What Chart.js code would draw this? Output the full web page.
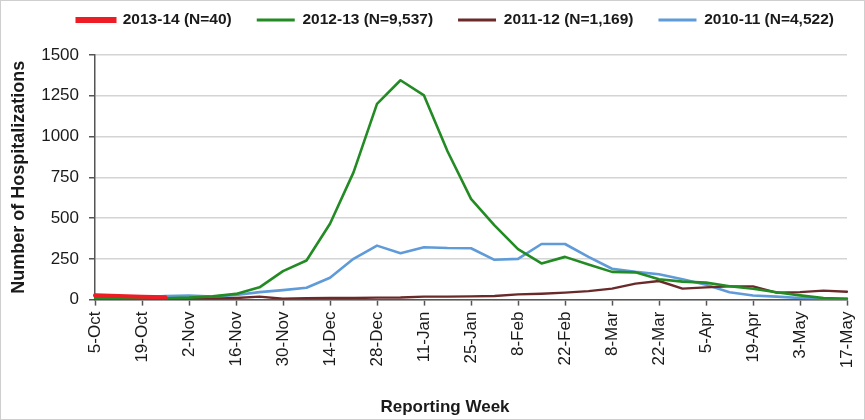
<!DOCTYPE html>
<html><head><meta charset="utf-8">
<script src="https://cdn.jsdelivr.net/npm/chart.js@4.4.1/dist/chart.umd.min.js"></script>
<style>
html,body{margin:0;padding:0;background:#fff;}
#wrap{position:relative;width:865px;height:420px;box-sizing:border-box;border:1px solid #cfcfcf;}
#c{display:block;}
</style></head>
<body><div id="wrap"><canvas id="c" width="863" height="418"></canvas></div>
<script>
const weeks = ['5-Oct','12-Oct','19-Oct','26-Oct','2-Nov','9-Nov','16-Nov','23-Nov','30-Nov','7-Dec','14-Dec','21-Dec','28-Dec','4-Jan','11-Jan','18-Jan','25-Jan','1-Feb','8-Feb','15-Feb','22-Feb','1-Mar','8-Mar','15-Mar','22-Mar','29-Mar','5-Apr','12-Apr','19-Apr','26-Apr','3-May','10-May','17-May'];
const seriesNames = ['2013-14 (N=40)','2012-13 (N=9,537)','2011-12 (N=1,169)','2010-11 (N=4,522)'];
const s2013_14 = [26,22,17,15];
const s2012_13 = [10,8,8,8,12,20,35,75,175,240,465,780,1200,1345,1252,910,618,455,310,222,262,215,170,167,125,110,104,82,67,45,26,10,5];
const s2011_12 = [3,3,3,3,4,5,10,18,5,8,10,10,12,13,18,18,20,22,32,36,43,52,67,98,114,67,75,81,81,43,46,55,48];
const s2010_11 = [8,10,12,22,25,18,28,46,58,73,134,250,331,284,321,316,315,244,250,341,341,262,189,170,155,125,91,45,25,18,10,5,5];
const yTicks = [0,250,500,750,1000,1250,1500];

const colors = ['#ee1c25','#238b23','#6b2a2a','#5f9bd8'];
const widths = [4,2.6,2.4,2.6];
const allSeries = [s2013_14,s2012_13,s2011_12,s2010_11];

const FONT = "'Liberation Sans', Arial, sans-serif";

const shiftPlugin = {
  id: 'shift',
  afterLayout(chart){
    const lg = chart.legend;
    if (lg){
      const w = lg.right - lg.left, h = lg.bottom - lg.top;
      const pad = lg.options.labels.padding, ih = 15.5;
      lg.left = 76 - pad; lg.right = lg.left + w;
      lg.top = 19 - pad - ih/2; lg.bottom = lg.top + h;
    }
    const tb = chart.titleBlock;
    if (tb){ const cx = 444; const w = tb.right - tb.left; tb.left = cx - w/2; tb.right = cx + w/2; }
  }
};

new Chart(document.getElementById('c'), {
  type: 'line',
  data: {
    labels: weeks,
    datasets: allSeries.map((d,i)=>({
      label: seriesNames[i],
      data: d,
      borderColor: colors[i],
      backgroundColor: colors[i],
      borderWidth: widths[i],
      pointRadius: 0,
      tension: 0,
      fill: false,
      borderCapStyle: 'round',
      borderJoinStyle: 'round'
    }))
  },
  options: {
    responsive: false,
    animation: false,
    devicePixelRatio: 1,
    layout: { padding: { top: 3.5, left: 0, right: 17, bottom: 1 } },
    plugins: {
      legend: {
        position: 'top',
        align: 'start',
        labels: {
          font: { family: FONT, size: 15.5, weight: 'bold' },
          color: '#1a1a1a',
          boxWidth: 38,
          boxHeight: 3,
          padding: 25,
          generateLabels(chart){
            return chart.data.datasets.map((ds,i)=>({
              text: ds.label,
              fillStyle: colors[i],
              strokeStyle: colors[i],
              lineWidth: i===0 ? 3 : 0,
              hidden: false,
              datasetIndex: i,
              fontColor: '#1a1a1a'
            }));
          }
        }
      },
      title: {
        display: true,
        position: 'bottom',
        text: 'Reporting Week',
        font: { family: FONT, size: 17, weight: 'bold' },
        color: '#1a1a1a',
        padding: { top: 0, bottom: 0 }
      },
      tooltip: { enabled: false }
    },
    scales: {
      x: {
        type: 'category',
        offset: false,
        afterBuildTicks(s){ s.ticks = s.ticks.filter(t => t.value % 2 === 0); },
        afterFit(s){ s.height = 98; s.paddingLeft = 0; s.paddingRight = 0; },
        grid: { drawOnChartArea: false, drawTicks: true, tickLength: 6, tickColor: '#555', tickWidth: 1.5 },
        border: { display: true, color: '#555', width: 1.5 },
        ticks: {
          autoSkip: false, maxRotation: 90, minRotation: 90, padding: 6,
          font: { family: FONT, size: 17 }, color: '#1a1a1a'
        }
      },
      y: {
        min: 0, max: 1500,
        afterBuildTicks(s){ s.ticks = yTicks.map(v=>({value:v})); },
        afterFit(s){ s.width = 94; s.paddingTop = 0; s.paddingBottom = 0; },
        grid: { color: '#d4d4d4', lineWidth: 1.5, drawTicks: true, tickLength: 6, tickColor: '#555', tickWidth: 1.5 },
        border: { display: true, color: '#555', width: 1.5 },
        ticks: { padding: 10, font: { family: FONT, size: 17 }, color: '#1a1a1a', callback: v => String(v) },
        title: {
          display: true, text: 'Number of Hospitalizations',
          font: { family: FONT, size: 18, weight: 'bold' }, color: '#1a1a1a',
          padding: { top: 7, bottom: 0 }
        }
      }
    }
  },
  plugins: [shiftPlugin]
});
</script>
</body></html>
